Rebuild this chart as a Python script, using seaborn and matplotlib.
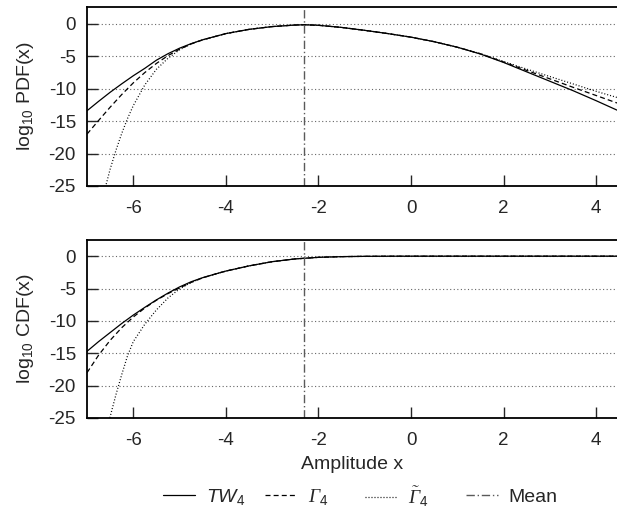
import numpy as np
import pandas as pd
import matplotlib
matplotlib.use("Agg")
import matplotlib.pyplot as plt
from matplotlib.lines import Line2D
import seaborn as sns

# ---------------- data ----------------
# log10 PDF
pdf_x = [-7.0, -6.75, -6.5, -6.25, -6.0, -5.75, -5.5, -5.25, -5.0, -4.75, -4.5, -4.0,
         -3.5, -3.0, -2.5, -2.3, -2.0, -1.5, -1.0, -0.5, 0.0, 0.5, 1.0, 1.5, 2.0,
         2.5, 3.0, 3.5, 4.0, 4.45]
pdf_tw = [-13.4, -11.95, -10.55, -9.25, -8.0, -6.85, -5.6, -4.6, -3.75, -3.05, -2.45, -1.5,
          -0.85, -0.42, -0.18, -0.14, -0.22, -0.55, -1.0, -1.5, -2.05, -2.75, -3.6, -4.65, -5.95,
          -7.4, -8.85, -10.3, -11.85, -13.3]
pdf_gamma = [-17.0, -14.9, -12.85, -10.9, -9.1, -7.5, -6.1, -4.9, -3.9, -3.1, -2.47, -1.5,
             -0.85, -0.42, -0.18, -0.14, -0.22, -0.55, -1.0, -1.5, -2.05, -2.75, -3.6, -4.62, -5.88,
             -7.18, -8.48, -9.78, -11.05, -12.2]
pdf_tgamma_x = [-6.65, -6.5, -6.375, -6.25, -6.125, -6.0, -5.75, -5.5, -5.25, -5.0, -4.75, -4.5,
                -4.0, -3.5, -3.0, -2.5, -2.3, -2.0, -1.5, -1.0, -0.5, 0.0, 0.5, 1.0, 1.5, 2.0,
                2.5, 3.0, 3.5, 4.0, 4.45]
pdf_tgamma = [-26.5, -22.4, -19.5, -16.9, -14.6, -12.6, -9.4, -7.0, -5.3, -4.0, -3.1, -2.47,
              -1.5, -0.85, -0.42, -0.18, -0.14, -0.22, -0.55, -1.0, -1.5, -2.05, -2.75, -3.6, -4.6, -5.8,
              -6.98, -8.12, -9.26, -10.4, -11.35]

# log10 CDF
cdf_x = [-7.0, -6.75, -6.5, -6.25, -6.0, -5.75, -5.5, -5.25, -5.0, -4.75, -4.5, -4.25, -4.0,
         -3.5, -3.0, -2.5, -2.0, -1.5, -1.0, -0.5, 0.0, 1.0, 2.0, 3.0, 4.45]
cdf_tw = [-14.7, -13.2, -11.8, -10.4, -9.1, -7.9, -6.75, -5.7, -4.75, -3.95, -3.32, -2.8, -2.3,
          -1.5, -0.85, -0.42, -0.18, -0.07, -0.025, -0.008, -0.002, 0.0, 0.0, 0.0, 0.0]
cdf_gamma = [-18.0, -15.3, -13.0, -11.05, -9.4, -8.0, -6.8, -5.78, -4.9, -4.05, -3.34, -2.8, -2.3,
             -1.5, -0.85, -0.42, -0.18, -0.07, -0.025, -0.008, -0.002, 0.0, 0.0, 0.0, 0.0]
cdf_tgamma_x = [-6.56, -6.5, -6.375, -6.25, -6.125, -6.0, -5.75, -5.5, -5.25, -5.0, -4.75, -4.5,
                -4.25, -4.0, -3.5, -3.0, -2.5, -2.0, -1.5, -1.0, -0.5, 0.0, 1.0, 2.0, 3.0, 4.45]
cdf_tgamma = [-26.3, -24.8, -21.4, -18.3, -15.4, -13.2, -10.5, -8.3, -6.45, -5.05, -4.05, -3.34,
              -2.8, -2.3, -1.5, -0.85, -0.42, -0.18, -0.07, -0.025, -0.008, -0.002, 0.0, 0.0, 0.0, 0.0]

mean_x = -2.3069

y_ticks = [0, -5, -10, -15, -20, -25]
x_ticks = [-6, -4, -2, 0, 2, 4]
labels = [r"$\mathit{TW}_\mathsf{4}$", r"$\Gamma_\mathsf{4}$", r"$\tilde{\Gamma}_\mathsf{4}$", "Mean"]

# ---------------- style ----------------
sns.set_style("ticks")
plt.rcParams["font.family"] = ["Liberation Sans", "DejaVu Sans"]
plt.rcParams["mathtext.fontset"] = "custom"
plt.rcParams["mathtext.rm"] = "Liberation Serif:italic"
plt.rcParams["mathtext.it"] = "Liberation Sans:italic"
plt.rcParams["mathtext.sf"] = "Liberation Sans"
plt.rcParams["axes.unicode_minus"] = False

W, H = 617, 515
FS = 13.5
fig = plt.figure(figsize=(W / 100, H / 100), dpi=100)
left = 87 / W
width = (617 - 87) / W
ax1 = fig.add_axes([left, 1 - 186 / H, width, (186 - 7) / H])
ax2 = fig.add_axes([left, 1 - 418 / H, width, (418 - 240) / H])

dash = (0, (4, 2.5))
dot = (0, (0.8, 1.6))
dashdot = (0, (6, 2, 1, 2))
lw = 0.9
mean_color = "#5a5a5a"

def draw(ax, x_tw, y_tw, y_g, x_t, y_t, ylab, ytop):
    sns.lineplot(x=x_tw, y=y_tw, ax=ax, color="black", lw=lw, linestyle="-", sort=False)
    sns.lineplot(x=x_tw, y=y_g, ax=ax, color="black", lw=lw, linestyle=dash, sort=False)
    sns.lineplot(x=x_t, y=y_t, ax=ax, color="black", lw=lw, linestyle=dot, sort=False)
    ax.axvline(mean_x, color=mean_color, lw=1.0, linestyle=dashdot)
    ax.set_xlim(-7.0, 4.45)
    ax.set_ylim(-25, ytop)
    ax.set_yticks(y_ticks)
    ax.set_xticks(x_ticks)
    ax.set_yticklabels([str(v) for v in y_ticks])
    ax.set_xticklabels([str(v) for v in x_ticks])
    for yv in y_ticks[:-1]:
        ax.axhline(yv, color="#666666", lw=0.8, linestyle=(0, (1, 2.2)), zorder=0)
    ax.tick_params(direction="in", length=8, width=1.0, labelsize=FS,
                   top=False, right=False)
    ax.tick_params(axis="y", pad=8)
    ax.tick_params(axis="x", pad=10)
    for s in ["left", "bottom", "top"]:
        ax.spines[s].set_linewidth(1.3)
        ax.spines[s].set_color("black")
    ax.spines["right"].set_visible(False)
    ax.set_ylabel(ylab, fontsize=14, labelpad=9)
    ax.set_xlabel("")

draw(ax1, pdf_x, pdf_tw, pdf_gamma, pdf_tgamma_x, pdf_tgamma, r"log$_\mathsf{10}$ PDF(x)", 2.6)
draw(ax2, cdf_x, cdf_tw, cdf_gamma, cdf_tgamma_x, cdf_tgamma, r"log$_\mathsf{10}$ CDF(x)", 2.5)
ax2.set_xlabel("Amplitude x", fontsize=14, labelpad=5)

handles = [
    Line2D([], [], color="black", lw=lw, linestyle="-"),
    Line2D([], [], color="black", lw=lw, linestyle=dash),
    Line2D([], [], color="black", lw=lw, linestyle=dot),
    Line2D([], [], color=mean_color, lw=1.0, linestyle=dashdot),
]
starts = [163, 265, 365, 466]
for h, lab, xs in zip(handles, labels, starts):
    fig.legend([h], [lab], loc="center left", bbox_to_anchor=(xs / W, 1 - 497 / H),
               frameon=False, fontsize=14, handlelength=1.65, handletextpad=0.55,
               borderpad=0, borderaxespad=0)

fig.savefig("out.png", dpi=100)
